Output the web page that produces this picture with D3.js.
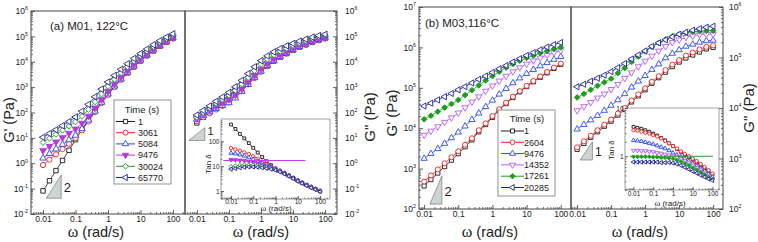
<!DOCTYPE html>
<html>
<head>
<meta charset="utf-8">
<script src="https://d3js.org/d3.v7.min.js"></script>
<style>
  body { margin: 0; background: #fff; }
  svg { display: block; font-family: "Liberation Sans", Arial, sans-serif; }
</style>
</head>
<body>
<svg id="fig" width="758" height="242"></svg>
<script>
// angular frequency (rad/s), 5 points per decade
var omega = [0.01, 0.0158, 0.0251, 0.0398, 0.0631, 0.1, 0.158, 0.251, 0.398, 0.631,
             1, 1.58, 2.51, 3.98, 6.31, 10, 15.8, 25.1, 39.8, 63.1, 100];

var timesA = ["1", "3061", "5084", "9476", "30024", "65770"];
var timesB = ["1", "2604", "9476", "14352", "17261", "20285"];

// all moduli / tan delta below are log10 values
var aGpLog = [
  [-1.09,-0.69,-0.29,0.11,0.51,0.93,1.32,1.70,2.06,2.40,2.72,3.02,3.30,3.56,3.80,4.03,4.24,4.43,4.61,4.77,4.92],
  [-0.07,0.14,0.35,0.56,0.77,1.00,1.30,1.65,2.02,2.37,2.70,3.01,3.30,3.56,3.81,4.04,4.25,4.44,4.62,4.78,4.93],
  [0.20,0.38,0.56,0.74,0.92,1.10,1.36,1.70,2.05,2.40,2.73,3.04,3.32,3.58,3.83,4.06,4.27,4.46,4.64,4.80,4.95],
  [0.50,0.67,0.84,1.01,1.18,1.35,1.58,1.86,2.18,2.51,2.83,3.12,3.39,3.64,3.88,4.10,4.30,4.48,4.65,4.81,4.95],
  [0.82,0.98,1.14,1.30,1.46,1.63,1.85,2.12,2.42,2.73,3.03,3.31,3.57,3.81,4.03,4.23,4.42,4.60,4.77,4.92,5.06],
  [1.02,1.17,1.32,1.48,1.64,1.82,2.05,2.32,2.62,2.92,3.20,3.46,3.70,3.92,4.13,4.32,4.50,4.67,4.83,4.97,5.10]
];
var aGppLog = [
  [1.59,1.81,2.01,2.23,2.44,2.67,2.87,3.07,3.26,3.44,3.62,3.83,4.02,4.18,4.32,4.45,4.57,4.67,4.77,4.85,4.92],
  [1.66,1.82,1.97,2.12,2.26,2.40,2.60,2.84,3.11,3.36,3.61,3.83,4.03,4.19,4.34,4.47,4.59,4.69,4.79,4.87,4.94],
  [1.73,1.88,2.02,2.15,2.27,2.38,2.57,2.83,3.10,3.37,3.63,3.85,4.04,4.20,4.35,4.48,4.60,4.70,4.80,4.88,4.95],
  [1.76,1.92,2.08,2.23,2.37,2.51,2.69,2.92,3.18,3.45,3.71,3.92,4.10,4.25,4.39,4.51,4.62,4.71,4.80,4.88,4.94],
  [1.81,2.00,2.18,2.36,2.52,2.68,2.88,3.12,3.38,3.65,3.90,4.10,4.27,4.41,4.53,4.64,4.74,4.83,4.92,4.99,5.05],
  [1.90,2.08,2.26,2.44,2.61,2.79,3.01,3.26,3.53,3.80,4.04,4.23,4.39,4.52,4.63,4.72,4.81,4.89,4.97,5.03,5.08]
];
var aTanLog = [
  [2.68,2.50,2.30,2.12,1.93,1.74,1.55,1.37,1.20,1.04,0.90,0.81,0.72,0.62,0.52,0.42,0.33,0.24,0.16,0.08,0.00],
  [1.73,1.68,1.62,1.56,1.49,1.40,1.30,1.19,1.09,0.99,0.91,0.82,0.73,0.63,0.53,0.43,0.34,0.25,0.17,0.09,0.01],
  [1.53,1.50,1.46,1.41,1.35,1.28,1.21,1.13,1.05,0.97,0.90,0.81,0.72,0.62,0.52,0.42,0.33,0.24,0.16,0.08,0.00],
  [1.26,1.25,1.24,1.22,1.19,1.16,1.11,1.06,1.00,0.94,0.88,0.80,0.71,0.61,0.51,0.41,0.32,0.23,0.15,0.07,-0.01],
  [0.99,1.02,1.04,1.06,1.06,1.05,1.03,1.00,0.96,0.92,0.87,0.79,0.70,0.60,0.50,0.41,0.32,0.23,0.15,0.07,-0.01],
  [0.88,0.91,0.94,0.96,0.97,0.97,0.96,0.94,0.91,0.88,0.84,0.77,0.69,0.60,0.50,0.40,0.31,0.22,0.14,0.06,-0.02]
];

var bGpLog = [
  [2.57,2.73,2.89,3.05,3.21,3.37,3.54,3.71,3.91,4.09,4.27,4.45,4.61,4.76,4.90,5.03,5.15,5.26,5.37,5.48,5.58],
  [2.68,2.83,2.98,3.13,3.28,3.43,3.59,3.75,3.95,4.12,4.30,4.47,4.63,4.78,4.92,5.05,5.17,5.28,5.39,5.50,5.60],
  [3.25,3.37,3.49,3.62,3.76,3.90,4.05,4.21,4.37,4.53,4.69,4.84,4.98,5.12,5.24,5.35,5.45,5.54,5.62,5.70,5.77],
  [3.83,3.93,4.04,4.15,4.26,4.38,4.51,4.65,4.78,4.92,5.05,5.17,5.29,5.40,5.50,5.59,5.67,5.74,5.81,5.87,5.92],
  [4.22,4.31,4.41,4.51,4.60,4.70,4.82,4.94,5.06,5.18,5.29,5.40,5.50,5.59,5.67,5.74,5.80,5.86,5.91,5.96,6.00],
  [4.55,4.62,4.70,4.78,4.86,4.95,5.03,5.12,5.21,5.29,5.38,5.47,5.55,5.64,5.72,5.80,5.87,5.94,6.01,6.07,6.12]
];
var bGppLog = [
  [3.18,3.30,3.42,3.53,3.64,3.74,3.86,3.97,4.12,4.24,4.36,4.49,4.60,4.71,4.82,4.91,4.99,5.05,5.11,5.17,5.20],
  [3.22,3.34,3.45,3.56,3.67,3.77,3.89,4.00,4.15,4.27,4.39,4.52,4.63,4.75,4.86,4.95,5.04,5.10,5.16,5.21,5.24],
  [3.58,3.67,3.76,3.85,3.95,4.05,4.16,4.28,4.41,4.53,4.64,4.76,4.87,4.99,5.08,5.15,5.22,5.26,5.30,5.33,5.34],
  [3.95,4.03,4.11,4.20,4.28,4.37,4.47,4.59,4.70,4.82,4.93,5.03,5.13,5.22,5.30,5.35,5.40,5.43,5.45,5.46,5.46],
  [4.21,4.28,4.36,4.44,4.51,4.58,4.69,4.79,4.91,5.02,5.12,5.21,5.29,5.36,5.42,5.46,5.49,5.51,5.52,5.53,5.53],
  [4.42,4.47,4.53,4.59,4.65,4.72,4.80,4.88,4.97,5.05,5.13,5.22,5.29,5.35,5.41,5.46,5.50,5.54,5.57,5.60,5.62]
];
var bTanLog = [
  [0.61,0.59,0.57,0.54,0.51,0.47,0.43,0.38,0.33,0.27,0.21,0.15,0.09,0.03,-0.02,-0.07,-0.13,-0.19,-0.25,-0.31,-0.38],
  [0.54,0.53,0.51,0.49,0.47,0.44,0.41,0.37,0.32,0.27,0.21,0.16,0.10,0.05,0.00,-0.05,-0.10,-0.16,-0.22,-0.29,-0.36],
  [0.33,0.32,0.31,0.29,0.27,0.25,0.22,0.19,0.16,0.12,0.07,0.03,-0.01,-0.05,-0.10,-0.15,-0.20,-0.26,-0.31,-0.37,-0.43],
  [0.12,0.12,0.11,0.11,0.10,0.09,0.07,0.06,0.04,0.02,0.00,-0.03,-0.06,-0.10,-0.14,-0.19,-0.24,-0.29,-0.35,-0.41,-0.46],
  [-0.01,-0.01,-0.01,-0.01,-0.01,-0.02,-0.02,-0.03,-0.03,-0.04,-0.05,-0.08,-0.11,-0.15,-0.19,-0.24,-0.28,-0.33,-0.38,-0.43,-0.48],
  [-0.12,-0.12,-0.12,-0.12,-0.12,-0.12,-0.12,-0.13,-0.13,-0.13,-0.14,-0.16,-0.19,-0.23,-0.27,-0.31,-0.35,-0.39,-0.43,-0.47,-0.50]
];

// horizontal reference lines in the insets
var gelA = { tan: 17, from: 0.0045, to: 22 };
var gelB = { tan: 1, from: 0.0066, to: 107 };

// tick values
var freqTicks = [0.01, 0.1, 1, 10, 100];
var modTicksA = [1e-2, 1e-1, 1e0, 1e1, 1e2, 1e3, 1e4, 1e5, 1e6];
var modTicksB1 = [1e2, 1e3, 1e4, 1e5, 1e6, 1e7];
var modTicksB2 = [1e2, 1e3, 1e4, 1e5, 1e6];
var tanTicksA = [1, 10, 100];
var tanTicksB = [1, 10];

// ---------- styles ----------
var colorsA = ["#1a1a1a", "#ee2020", "#2446ee", "#b23ae2", "#24a02c", "#23238f"];
var colorsB = ["#1a1a1a", "#ee2020", "#2a4cf0", "#b35cf2", "#1c9e1c", "#20209a"];
var shapesA = ["square", "circle", "up", "down", "diamond", "left"];
var filledA = [false, false, false, true, false, false];
var filledB = [false, false, false, false, true, false];

var SHAPES = {
  square:  { type: d3.symbolSquare,   rot: 0,   k: 0.9 },
  circle:  { type: d3.symbolCircle,   rot: 0,   k: 1.0 },
  up:      { type: d3.symbolTriangle, rot: 0,   k: 0.85 },
  down:    { type: d3.symbolTriangle, rot: 180, k: 0.85 },
  diamond: { type: d3.symbolSquare,   rot: 45,  k: 0.8 },
  left:    { type: d3.symbolTriangle, rot: -90, k: 0.85 }
};

var svg = d3.select("#fig");

function marker(g, x, y, s, size) {
  var sh = SHAPES[s.shape];
  g.append("path")
    .attr("d", d3.symbol().type(sh.type).size(size * sh.k)())
    .attr("transform", "translate(" + x + "," + y + ") rotate(" + sh.rot + ")")
    .attr("fill", s.filled ? s.color : "#fff")
    .attr("stroke", s.color)
    .attr("stroke-width", 0.9);
}

function drawSeries(g, xs, ys, series, size) {
  series.forEach(function (s) {
    var pts = omega.map(function (w, i) { return [xs(w), ys(Math.pow(10, s.vals[i]))]; });
    g.append("path").attr("d", d3.line()(pts))
      .attr("fill", "none").attr("stroke", s.color).attr("stroke-width", 0.8);
    pts.forEach(function (p) { marker(g, p[0], p[1], s, size); });
  });
}

function minorTicks(scale) {
  var d = scale.domain(), out = [];
  for (var e = Math.floor(Math.log10(d[0])); e <= Math.ceil(Math.log10(d[1])); e++)
    for (var k = 2; k <= 9; k++) {
      var v = k * Math.pow(10, e);
      if (v >= d[0] && v <= d[1]) out.push(v);
    }
  return out;
}

function drawAxis(orient, scale, pos, majors, o) {
  var make = orient === "left" ? d3.axisLeft : orient === "right" ? d3.axisRight : d3.axisBottom;
  var tr = orient === "bottom" ? "translate(0," + pos + ")" : "translate(" + pos + ",0)";
  var mi = svg.append("g").attr("transform", tr).attr("color", "#333")
    .call(make(scale).tickValues(minorTicks(scale)).tickSize(-o.minor).tickFormat(""));
  mi.select(".domain").remove();
  mi.selectAll("line").attr("stroke-width", 0.7);
  var ma = svg.append("g").attr("transform", tr).attr("color", "#333")
    .call(make(scale).tickValues(majors).tickSize(-o.major).tickPadding(o.pad)
      .tickFormat(function (d) { return String(d); }));
  ma.select(".domain").remove();
  ma.attr("font-family", null).attr("font-size", o.fs);
  ma.selectAll("line").attr("stroke-width", 0.8);
  ma.selectAll("text").attr("fill", "#222");
  if (o.sup) {
    ma.selectAll(".tick text").each(function (d) {
      var t = d3.select(this);
      t.text(null);
      t.append("tspan").text("10");
      t.append("tspan").attr("dy", -3.8).attr("font-size", o.fs * 0.62)
        .text(Math.round(Math.log10(d)));
    });
  }
}

function frame(x0, x1, y0, y1) {
  svg.append("rect").attr("x", x0).attr("y", y0).attr("width", x1 - x0).attr("height", y1 - y0)
    .attr("fill", "none").attr("stroke", "#444").attr("stroke-width", 1);
}

function legend(series, o) {
  var g = svg.append("g");
  g.append("rect").attr("x", o.x).attr("y", o.y).attr("width", o.w).attr("height", o.h)
    .attr("fill", "#fff").attr("stroke", "#777").attr("stroke-width", 0.8);
  g.append("text").attr("x", o.titleX).attr("y", o.titleY).attr("text-anchor", "middle")
    .attr("font-size", 9.5).attr("fill", "#222").text("Time (s)");
  series.forEach(function (s, i) {
    var yy = o.row0 + i * o.dy;
    g.append("line").attr("x1", o.lx0).attr("x2", o.lx1).attr("y1", yy).attr("y2", yy)
      .attr("stroke", s.color).attr("stroke-width", 1);
    marker(g, (o.lx0 + o.lx1) / 2, yy, s, o.size);
    g.append("text").attr("x", o.tx).attr("y", yy + 3.2).attr("font-size", 9)
      .attr("fill", "#222").text(s.label);
  });
}

function slope(xs, ys, t) {
  var top = t.g0 * Math.pow(t.w1 / t.w0, t.n);
  var pts = [[xs(t.w0), ys(t.g0)], [xs(t.w1), ys(t.g0)], [xs(t.w1), ys(top)]];
  svg.append("path").attr("d", d3.line()(pts) + "Z")
    .attr("fill", "#cdd4d4").attr("stroke", "#666").attr("stroke-width", 0.6);
  svg.append("text").attr("x", xs(t.w1) + 2.5).attr("y", (ys(t.g0) + ys(top)) / 2 + t.dy)
    .attr("font-size", t.fs).attr("fill", "#222").text(String(t.n));
}

function omegaTitle(x, y, fs) {
  var t = svg.append("text").attr("x", x).attr("y", y).attr("text-anchor", "middle")
    .attr("font-size", fs).attr("fill", "#222");
  t.append("tspan").attr("font-family", "Liberation Serif").attr("font-size", fs * 1.1).text("\u03c9");
  t.append("tspan").text(" (rad/s)");
}

function vTitle(x, y, fs, txt) {
  svg.append("text").attr("transform", "translate(" + x + "," + y + ") rotate(-90)")
    .attr("text-anchor", "middle").attr("font-size", fs).attr("fill", "#222").text(txt);
}

function buildSeries(labels, colors, filled, vals) {
  return labels.map(function (l, i) {
    return { label: l, color: colors[i], shape: shapesA[i], filled: filled[i], vals: vals[i] };
  });
}

// ---------- scales ----------
var PA = { x0: 31, xm: 185, x1: 337, y0: 11, y1: 214 };
var PB = { x0: 419, xm: 571, x1: 723, y0: 7, y1: 209 };

var xA1 = d3.scaleLog().domain([Math.pow(10, -2.37), Math.pow(10, 2.37)]).range([PA.x0, PA.xm]);
var xA2 = d3.scaleLog().domain([Math.pow(10, -2.37), Math.pow(10, 2.37)]).range([PA.xm, PA.x1]);
var yA = d3.scaleLog().domain([1e-2, 1e6]).range([PA.y1, PA.y0]);
var xB1 = d3.scaleLog().domain([Math.pow(10, -2.15), Math.pow(10, 2.3)]).range([PB.x0, PB.xm]);
var xB2 = d3.scaleLog().domain([Math.pow(10, -2.18), Math.pow(10, 2.29)]).range([PB.xm, PB.x1]);
var yB1 = d3.scaleLog().domain([1e2, 1e7]).range([PB.y1, PB.y0]);
var yB2 = d3.scaleLog().domain([1e2, 1e6]).range([PB.y1, PB.y0]);
var xAi = d3.scaleLog().domain([Math.pow(10, -2.45), Math.pow(10, 2.45)]).range([221, 330]);
var yAi = d3.scaleLog().domain([Math.pow(10, -0.32), Math.pow(10, 2.9)]).range([199, 119]);
var xBi = d3.scaleLog().domain([Math.pow(10, -2.43), Math.pow(10, 2.33)]).range([625, 719]);
var yBi = d3.scaleLog().domain([0.2, 10]).range([190, 108]);

var sAGp = buildSeries(timesA, colorsA, filledA, aGpLog);
var sAGpp = buildSeries(timesA, colorsA, filledA, aGppLog);
var sATan = buildSeries(timesA, colorsA, filledA, aTanLog);
var sBGp = buildSeries(timesB, colorsB, filledB, bGpLog);
var sBGpp = buildSeries(timesB, colorsB, filledB, bGppLog);
var sBTan = buildSeries(timesB, colorsB, filledB, bTanLog);

// ---------- panel (a) ----------
var mainAxis = { major: 4, minor: 2, pad: 3, fs: 8.5 };
drawAxis("left", yA, PA.x0, modTicksA, Object.assign({}, mainAxis, { sup: true }));
drawAxis("right", yA, PA.x1, modTicksA, Object.assign({}, mainAxis, { pad: 8, sup: true }));
drawAxis("bottom", xA1, PA.y1, freqTicks, Object.assign({}, mainAxis, { pad: 1.5 }));
drawAxis("bottom", xA2, PA.y1, freqTicks, Object.assign({}, mainAxis, { pad: 1.5 }));

var gA = svg.append("g");
drawSeries(gA, xA1, yA, sAGp, 22);
drawSeries(gA, xA2, yA, sAGpp, 22);
frame(PA.x0, PA.xm, PA.y0, PA.y1);
frame(PA.xm, PA.x1, PA.y0, PA.y1);

// inset (a)
svg.append("rect").attr("x", 221).attr("y", 119).attr("width", 109).attr("height", 80)
  .attr("fill", "#fff").attr("stroke", "#888").attr("stroke-width", 0.8);
var insetAxis = { major: 3, minor: 1.5, pad: 1.5, fs: 6.5 };
drawAxis("left", yAi, 221, tanTicksA, insetAxis);
drawAxis("bottom", xAi, 199, freqTicks, Object.assign({}, insetAxis, { pad: 0 }));
var gAi = svg.append("g");
drawSeries(gAi, xAi, yAi, sATan, 9);
svg.append("line").attr("x1", xAi(gelA.from)).attr("x2", xAi(gelA.to))
  .attr("y1", yAi(gelA.tan)).attr("y2", yAi(gelA.tan))
  .attr("stroke", "#c63cf0").attr("stroke-width", 1.2);
vTitle(211, 164, 8, "Tan \u03b4");
omegaTitle(276, 211, 8);

legend(sAGp, { x: 114, y: 100, w: 57, h: 84, titleX: 142, titleY: 113, row0: 121.5, dy: 11.2,
               lx0: 116, lx1: 135, tx: 138, size: 20 });

slope(xA1, yA, { w0: Math.pow(10, -1.9), w1: Math.pow(10, -1.44), g0: Math.pow(10, -1.38), n: 2, fs: 13, dy: 5.5 });
slope(xA2, yA, { w0: Math.pow(10, -2.25), w1: Math.pow(10, -1.75), g0: Math.pow(10, 0.9), n: 1, fs: 11, dy: 1 });

svg.append("text").attr("x", 50).attr("y", 30).attr("font-size", 11.5).attr("fill", "#222")
  .text("(a) M01, 122\u00b0C");
vTitle(14, 120, 14.5, "G' (Pa)");
vTitle(375, 117, 15, "G\" (Pa)");
omegaTitle(96, 237, 14.5);
omegaTitle(261, 237, 14.5);

// ---------- panel (b) ----------
drawAxis("left", yB1, PB.x0, modTicksB1, Object.assign({}, mainAxis, { sup: true }));
drawAxis("right", yB2, PB.x1, modTicksB2, Object.assign({}, mainAxis, { pad: 6, sup: true }));
drawAxis("bottom", xB1, PB.y1, freqTicks, Object.assign({}, mainAxis, { pad: 2 }));
drawAxis("bottom", xB2, PB.y1, freqTicks, Object.assign({}, mainAxis, { pad: 2 }));

var gB = svg.append("g");
drawSeries(gB, xB1, yB1, sBGp, 20);
drawSeries(gB, xB2, yB2, sBGpp, 20);
frame(PB.x0, PB.xm, PB.y0, PB.y1);
frame(PB.xm, PB.x1, PB.y0, PB.y1);

// inset (b)
svg.append("rect").attr("x", 625).attr("y", 108).attr("width", 94).attr("height", 82)
  .attr("fill", "#fff").attr("stroke", "#888").attr("stroke-width", 0.8);
drawAxis("left", yBi, 625, tanTicksB, insetAxis);
drawAxis("bottom", xBi, 190, freqTicks, Object.assign({}, insetAxis, { pad: 1.5 }));
var gBi = svg.append("g");
drawSeries(gBi, xBi, yBi, sBTan, 9);
svg.append("line").attr("x1", xBi(gelB.from)).attr("x2", xBi(gelB.to))
  .attr("y1", yBi(gelB.tan)).attr("y2", yBi(gelB.tan))
  .attr("stroke", "#2a9a2a").attr("stroke-width", 1.2);
vTitle(614, 150, 8, "Tan \u03b4");
omegaTitle(670, 206, 8);

legend(sBGp, { x: 498, y: 110, w: 57, h: 86, titleX: 527, titleY: 122, row0: 131, dy: 11.3,
               lx0: 501, lx1: 524, tx: 524, size: 18 });

slope(xB1, yB1, { w0: Math.pow(10, -1.83), w1: Math.pow(10, -1.48), g0: Math.pow(10, 2.12), n: 2, fs: 13, dy: 5.5 });
slope(xB2, yB2, { w0: Math.pow(10, -1.91), w1: Math.pow(10, -1.55), g0: Math.pow(10, 2.97), n: 1, fs: 12, dy: 5 });

svg.append("text").attr("x", 425).attr("y", 27).attr("font-size", 11.5).attr("fill", "#222")
  .text("(b) M03,116\u00b0C");
vTitle(397, 113, 15, "G' (Pa)");
vTitle(754, 108, 15, "G\" (Pa)");
omegaTitle(490, 237, 14.5);
omegaTitle(640, 237, 14.5);
</script>
</body>
</html>
